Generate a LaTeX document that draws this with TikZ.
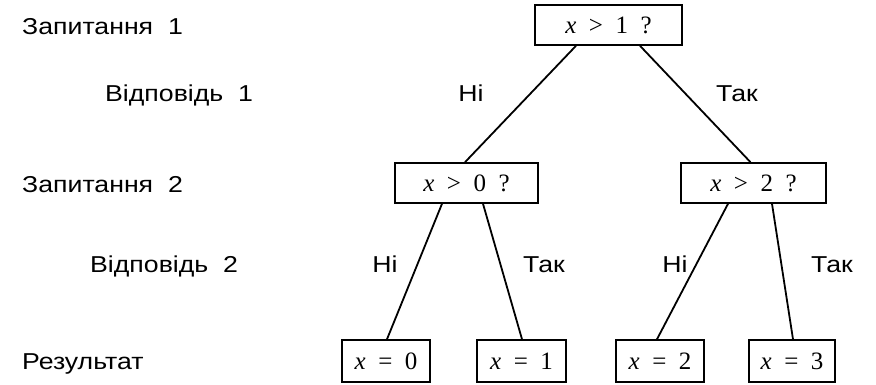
\documentclass[tikz,border=0pt]{standalone}
\usepackage{fontspec}
\setmainfont{Liberation Sans}[FakeStretch=1.16]
\newfontfamily\tms{Liberation Serif}
\usetikzlibrary{calc}
\newcommand{\gp}{\hspace{0.5em}}
\newcommand{\vx}{{\itshape x}}
\begin{document}
\begin{tikzpicture}[x=1pt,y=-1pt,
  qbox/.style={draw,line width=1.6pt,inner sep=0pt,minimum height=40pt,font=\tms\fontsize{25}{28}\selectfont},
  rbox/.style={draw,line width=1.6pt,inner sep=0pt,minimum height=42pt,font=\tms\fontsize{25}{28}\selectfont},
  lbl/.style={inner sep=0pt,anchor=base,font=\fontsize{23}{25}\selectfont},
  side/.style={inner sep=0pt,anchor=base west,font=\fontsize{23}{25}\selectfont},
  edge/.style={line width=1.8pt}]
\path[use as bounding box] (0,0) rectangle (876,385);
\node[qbox,minimum width=147pt] (q1) at (608.5,25) {\vx\gp>\gp1\gp?};
\node[qbox,minimum width=143pt] (a) at (466.5,183) {\vx\gp>\gp0\gp?};
\node[qbox,minimum width=145pt] (b) at (753.5,183) {\vx\gp>\gp2\gp?};
\node[rbox,minimum width=88pt] (r0) at (386,361) {\vx\gp=\gp0};
\node[rbox,minimum width=89pt] (r1) at (521.5,361) {\vx\gp=\gp1};
\node[rbox,minimum width=88pt] (r2) at (660,361) {\vx\gp=\gp2};
\node[rbox,minimum width=86pt] (r3) at (792,361) {\vx\gp=\gp3};
\draw[edge] ($(q1.south)+(-32.5,0)$) -- ($(a.north)+(-1.5,0)$);
\draw[edge] ($(q1.south)+(31.5,0)$) -- ($(b.north)+(-3,0)$);
\draw[edge] ($(a.south)+(-24.5,0)$) -- ($(r0.north)+(1,0)$);
\draw[edge] ($(a.south)+(16.5,0)$) -- ($(r1.north)+(0.5,0)$);
\draw[edge] ($(b.south)+(-25.5,0)$) -- ($(r2.north)+(-3,0)$);
\draw[edge] ($(b.south)+(18.5,0)$) -- ($(r3.north)+(1,0)$);
\node[lbl] (n1) at (471,102) {Ні};
\node[lbl] (t1) at (737,102) {Так};
\node[lbl] (n2) at (385,272) {Ні};
\node[lbl] (t2) at (544,272) {Так};
\node[lbl] (n3) at (675,272) {Ні};
\node[lbl] (t3) at (832,272) {Так};
\node[side] (s1) at (22,35) {Запитання\ \ 1};
\node[side] (s2) at (105,102) {Відповідь\ \ 1};
\node[side] (s3) at (22,193) {Запитання\ \ 2};
\node[side] (s4) at (90,272) {Відповідь\ \ 2};
\node[side] (s5) at (22,369) {Результат};
\end{tikzpicture}
\end{document}
